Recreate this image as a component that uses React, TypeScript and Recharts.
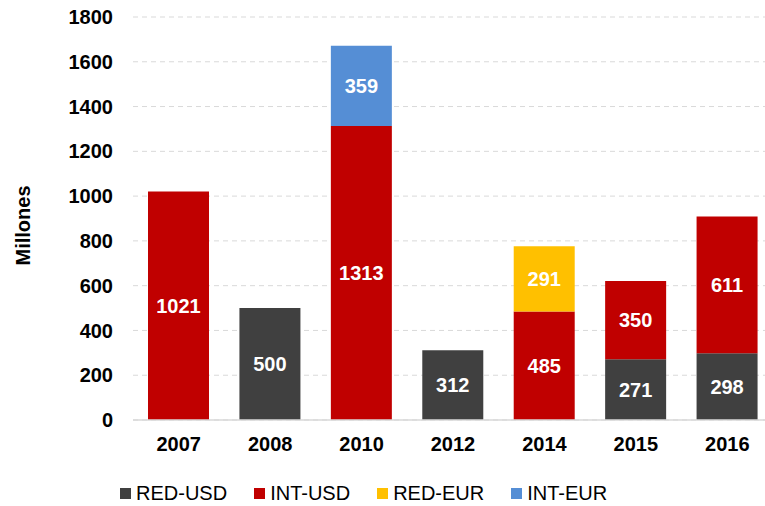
import React from "react";
import {
  BarChart,
  Bar,
  XAxis,
  YAxis,
  CartesianGrid,
  Legend,
  LabelList,
} from "recharts";

const years = ["2007", "2008", "2010", "2012", "2014", "2015", "2016"];
const redUsd = [null, 500, null, 312, null, 271, 298];
const intUsd = [1021, null, 1313, null, 485, 350, 611];
const redEur = [null, null, null, null, 291, null, null];
const intEur = [null, null, 359, null, null, null, null];
const yTicks = [0, 200, 400, 600, 800, 1000, 1200, 1400, 1600, 1800];

const series = [
  { key: "redUsd", name: "RED-USD", color: "#404040" },
  { key: "intUsd", name: "INT-USD", color: "#C00000" },
  { key: "redEur", name: "RED-EUR", color: "#FFC000" },
  { key: "intEur", name: "INT-EUR", color: "#558ED5" },
];

const data = years.map((year, i) => ({
  year,
  redUsd: redUsd[i],
  intUsd: intUsd[i],
  redEur: redEur[i],
  intEur: intEur[i],
}));

const FONT = "Arial, 'Liberation Sans', sans-serif";

function renderValue(props: any) {
  const { x, y, width, height, value } = props;
  if (value == null || value === 0) return null;
  return (
    <text
      x={x + width / 2}
      y={y + height / 2}
      textAnchor="middle"
      dominantBaseline="central"
      fill="#ffffff"
      fontSize={20}
      fontWeight={700}
      fontFamily={FONT}
    >
      {value}
    </text>
  );
}

function renderLegend() {
  return (
    <div
      style={{
        display: "flex",
        alignItems: "center",
        height: 26,
        paddingLeft: 120,
        gap: 27,
        fontSize: 20,
        fontFamily: FONT,
        color: "#000",
      }}
    >
      {series.map((s) => (
        <div key={s.key} style={{ display: "flex", alignItems: "center" }}>
          <span
            style={{
              width: 11,
              height: 11,
              background: s.color,
              marginRight: 5,
              display: "inline-block",
            }}
          />
          <span>{s.name}</span>
        </div>
      ))}
    </div>
  );
}

function YLabel(props: any) {
  const vb = props.viewBox || { x: 0, y: 0, height: 0 };
  const cx = 23;
  const cy = vb.y + vb.height / 2 + 7;
  return (
    <text
      x={cx}
      y={cy}
      transform={`rotate(-90 ${cx} ${cy})`}
      textAnchor="middle"
      dominantBaseline="central"
      fontSize={20}
      fontWeight={700}
      fontFamily={FONT}
      fill="#000"
    >
      Millones
    </text>
  );
}

export default function App() {
  return (
    <div
      style={{
        position: "absolute",
        left: 0,
        top: 0,
        width: 765,
        height: 506,
        overflow: "hidden",
        background: "#fff",
        fontFamily: FONT,
      }}
    >
      <BarChart
        width={773}
        height={506}
        data={data}
        margin={{ top: 17, right: 0, left: 0, bottom: 0 }}
      >
        <CartesianGrid
          vertical={false}
          stroke="#d9d9d9"
          strokeDasharray="5 4"
        />
        <XAxis
          dataKey="year"
          height={60}
          tickLine={false}
          tickSize={0}
          tickMargin={17}
          axisLine={{ stroke: "#d9d9d9", strokeWidth: 1.5 }}
          tick={{ fontSize: 20, fontWeight: 700, fill: "#000" }}
        />
        <YAxis
          width={133}
          domain={[0, 1800]}
          ticks={yTicks}
          interval={0}
          axisLine={false}
          tickLine={false}
          tickSize={0}
          tickMargin={20}
          tick={{ fontSize: 20, fontWeight: 700, fill: "#000" }}
          label={{ content: YLabel }}
        />
        <Legend verticalAlign="bottom" content={renderLegend} />
        {series.map((s) => (
          <Bar
            key={s.key}
            dataKey={s.key}
            name={s.name}
            stackId="a"
            fill={s.color}
            barSize={61}
            isAnimationActive={false}
          >
            <LabelList dataKey={s.key} content={renderValue} />
          </Bar>
        ))}
      </BarChart>
    </div>
  );
}
